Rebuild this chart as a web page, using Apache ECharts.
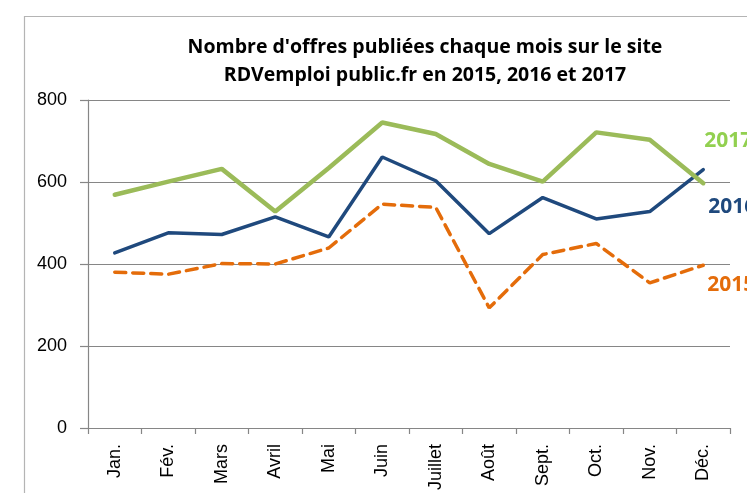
<!DOCTYPE html>
<html>
<head>
<meta charset="utf-8">
<script src="https://cdn.jsdelivr.net/npm/echarts@6/dist/echarts.min.js"></script>
<style>
html,body{margin:0;padding:0;background:#fff;}
#chart{width:747px;height:493px;}
</style>
</head>
<body>
<div id="chart"></div>
<script>
var titleText = "Nombre d'offres publiées chaque mois sur le site\nRDVemploi public.fr en 2015, 2016 et 2017";
var months = ["Jan.", "Fév.", "Mars", "Avril", "Mai", "Juin", "Juillet", "Août", "Sept.", "Oct.", "Nov.", "Déc."];
var yTicks = [0, 200, 400, 600, 800];
var s2015 = [380, 375, 401, 400, 439, 546, 538, 293, 423, 450, 354, 397];
var s2016 = [427, 476, 472, 515, 466, 661, 603, 474, 562, 510, 528, 630];
var s2017 = [569, 601, 632, 528, 634, 745, 717, 644, 601, 721, 703, 597];

var titleFont = "'Open Sans', sans-serif";
var chart = echarts.init(document.getElementById('chart'), null, {renderer: 'canvas'});
chart.setOption({
  animation: false,
  backgroundColor: '#fff',
  graphic: [{
    type: 'rect', left: 22, top: 14, silent: true,
    shape: {width: 800, height: 600},
    style: {fill: 'none', stroke: '#b4b4b4', lineWidth: 1.2}
  }],
  title: {
    text: titleText,
    left: 420, top: 28, textAlign: 'center',
    textStyle: {fontFamily: titleFont, fontWeight: 'bold', fontSize: 19.5, lineHeight: 28, color: '#000'}
  },
  grid: {left: 88, right: 17, top: 100, bottom: 64, containLabel: false},
  xAxis: {
    type: 'category', data: months, boundaryGap: true,
    axisLine: {lineStyle: {color: '#868686', width: 1.2}},
    axisTick: {show: true, length: 6, lineStyle: {color: '#868686', width: 1.2}},
    axisLabel: {rotate: 90, margin: 16, color: '#000', fontFamily: "'Liberation Sans', Arial, sans-serif", fontSize: 18, interval: 0}
  },
  yAxis: {
    type: 'value', min: yTicks[0], max: yTicks[yTicks.length - 1], interval: 200,
    axisLine: {show: true, lineStyle: {color: '#868686', width: 1.2}},
    axisTick: {show: true, length: 8, lineStyle: {color: '#868686', width: 1.2}},
    axisLabel: {margin: 21, color: '#000', fontFamily: "'Liberation Sans', Arial, sans-serif", fontSize: 18},
    splitLine: {show: true, lineStyle: {color: '#868686', width: 1.2}}
  },
  series: [
    {
      name: '2015', type: 'line', data: s2015, symbol: 'none', smooth: false,
      lineStyle: {color: '#E46C0A', width: 3.5, type: [11, 7], cap: 'round'},
      itemStyle: {color: '#E46C0A'},
      endLabel: {show: true, formatter: '{a}', distance: 0, offset: [4, 20], color: '#E46C0A', fontFamily: titleFont, fontWeight: 'bold', fontSize: 21}
    },
    {
      name: '2016', type: 'line', data: s2016, symbol: 'none', smooth: false,
      lineStyle: {color: '#1F497D', width: 3.5, cap: 'round'},
      itemStyle: {color: '#1F497D'},
      endLabel: {show: true, formatter: '{a}', distance: 0, offset: [5, 37], color: '#1F497D', fontFamily: titleFont, fontWeight: 'bold', fontSize: 21}
    },
    {
      name: '2017', type: 'line', data: s2017, symbol: 'none', smooth: false,
      lineStyle: {color: '#9BBB59', width: 4.5, cap: 'round'},
      itemStyle: {color: '#9BBB59'},
      endLabel: {show: true, formatter: '{a}', distance: 0, offset: [1, -42], color: '#92D050', fontFamily: titleFont, fontWeight: 'bold', fontSize: 21}
    }
  ]
});
</script>
</body>
</html>
